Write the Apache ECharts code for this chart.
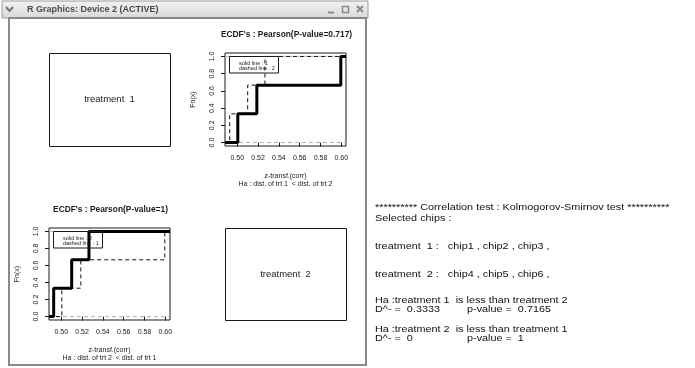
<!DOCTYPE html>
<html><head><meta charset="utf-8">
<script src="https://cdn.jsdelivr.net/npm/echarts@6/dist/echarts.min.js"></script>
<style>html,body{margin:0;padding:0;background:#fff}#c{width:695px;height:368px}</style>
</head><body><div id="c"></div>
<script>
// ---- data ----
const xTicks = [0.50, 0.52, 0.54, 0.56, 0.58, 0.60];
const yTicks = [0, 0.2, 0.4, 0.6, 0.8, 1.0];
const xRange = [0.4882, 0.6045];
const yRange = [-0.04, 1.04];
const trt1X = [0.4882, 0.5005, 0.5188, 0.5995, 0.6045];
const trt1Y = [0, 0.3333, 0.6667, 1, 1];
const trt2X = [0.4882, 0.4927, 0.5100, 0.5266, 0.6045];
const trt2Y = [0, 0.3333, 0.6667, 1, 1];
const refLevels = [0, 1];
const plotTitles = ["ECDF's : Pearson(P-value=0.717)", "ECDF's : Pearson(P-value=1)"];
const legendTexts = [["solid line : 1", "dashed line : 2"], ["solid line : 2", "dashed line : 1"]];
const xTitle = "z-transf.(corr)";
const yTitle = "Fn(x)";
const subTitles = ["Ha : dist. of trt 1  < dist. of trt 2", "Ha : dist. of trt 2  < dist. of trt 1"];
const boxLabels = ["treatment  1", "treatment  2"];
const windowTitle = "R Graphics: Device 2 (ACTIVE)";
const reportLines = [
  ["********** Correlation test : Kolmogorov-Smirnov test **********", ""],
  ["Selected chips :", ""],
  ["treatment  1 :   chip1 , chip2 , chip3 ,", ""],
  ["treatment  2 :   chip4 , chip5 , chip6 ,", ""],
  ["Ha :treatment 1  is less than treatment 2", ""],
  ["D^- =  0.3333", "p-value =  0.7165"],
  ["Ha :treatment 2  is less than treatment 1", ""],
  ["D^- =  0", "p-value =  1"]
];

// ---- layout ----
const FF = "'Liberation Sans', Arial, sans-serif";
const plots = [
  {left: 225, top: 53, width: 121, height: 93, solid: [trt1X, trt1Y], dashed: [trt2X, trt2Y]},
  {left: 49, top: 228, width: 121, height: 92, solid: [trt2X, trt2Y], dashed: [trt1X, trt1Y]}
];
const emptyBoxes = [
  {left: 49, top: 53, width: 121, height: 93},
  {left: 225, top: 228, width: 121, height: 92}
];
const reportY = [207, 218.5, 246.5, 274.5, 300.5, 309, 329.5, 338];

const zip = (xs, ys) => xs.map((x, i) => [x, ys[i]]);

const grid = [], xAxis = [], yAxis = [], series = [], graphic = [];

function txt(x, y, text, opt) {
  opt = opt || {};
  const align = opt.align || 'center';
  const va = opt.va || 'middle';
  graphic.push({
    type: 'text', x: x, y: y, rotation: opt.rot || 0, scaleX: opt.sx || 1, z: 100,
    style: {
      text: text, fill: opt.fill || '#1a1a1a',
      font: (opt.weight || 'normal') + ' ' + (opt.size || 7) + 'px ' + (opt.family || FF),
      align: align, verticalAlign: va, textAlign: align, textVerticalAlign: va
    }
  });
}

plots.forEach((p, i) => {
  grid.push({left: p.left, top: p.top, width: p.width, height: p.height, show: true,
    borderColor: '#1a1a1a', borderWidth: 1, backgroundColor: 'transparent', containLabel: false});
  xAxis.push({
    gridIndex: i, type: 'value', min: xRange[0], max: xRange[1],
    splitLine: {show: false}, axisLine: {show: false},
    axisTick: {show: true, length: 4, customValues: xTicks, lineStyle: {color: '#1a1a1a'}},
    axisLabel: {customValues: xTicks, formatter: v => v.toFixed(2), fontSize: 7, margin: 9,
      color: '#1a1a1a', fontFamily: FF}
  });
  yAxis.push({
    gridIndex: i, type: 'value', min: yRange[0], max: yRange[1],
    splitLine: {show: false}, axisLine: {show: false},
    axisTick: {show: true, length: 4, customValues: yTicks, lineStyle: {color: '#1a1a1a'}},
    axisLabel: {customValues: yTicks, formatter: v => v.toFixed(1), fontSize: 7, margin: 9,
      rotate: 90, color: '#1a1a1a', fontFamily: FF}
  });
  refLevels.forEach(L => {
    series.push({type: 'line', xAxisIndex: i, yAxisIndex: i, data: [[xRange[0], L], [xRange[1], L]],
      showSymbol: false, silent: true, animation: false, z: 1,
      lineStyle: {color: '#b3b3b3', width: 1, type: [4, 3]}});
  });
  series.push({type: 'line', xAxisIndex: i, yAxisIndex: i, data: zip(p.dashed[0], p.dashed[1]),
    step: 'end', showSymbol: false, animation: false, z: 2,
    lineStyle: {color: '#111', width: 1, type: [4, 3]}});
  series.push({type: 'line', xAxisIndex: i, yAxisIndex: i, data: zip(p.solid[0], p.solid[1]),
    step: 'end', showSymbol: false, animation: false, z: 3,
    lineStyle: {color: '#000', width: 3, cap: 'butt'}});

  const cx = p.left + p.width / 2;
  txt(cx + 1, p.top - 18, plotTitles[i], {weight: 'bold', size: 8.4});
  txt(cx, p.top + p.height + 30, xTitle, {size: 7});
  txt(cx, p.top + p.height + 38.5, subTitles[i], {size: 7});
  txt(p.left - 32, p.top + p.height / 2, yTitle, {size: 7, rot: Math.PI / 2});
  // legend box
  graphic.push({type: 'rect', shape: {x: p.left + 4.5, y: p.top + 3.5, width: 49, height: 16.5},
    style: {fill: 'none', stroke: '#1a1a1a', lineWidth: 1}, z: 90});
  txt(p.left + 14, p.top + 10, legendTexts[i][0], {size: 5.5, align: 'left'});
  txt(p.left + 14, p.top + 15.5, legendTexts[i][1], {size: 5.5, align: 'left'});
});

emptyBoxes.forEach((b, i) => {
  graphic.push({type: 'rect', shape: {x: b.left + 0.5, y: b.top + 0.5, width: b.width, height: b.height},
    style: {fill: 'none', stroke: '#1a1a1a', lineWidth: 1}, z: 90});
  txt(b.left + b.width / 2, b.top + b.height / 2, boxLabels[i], {size: 9.5});
});

// window frame
graphic.push({type: 'rect', shape: {x: 2, y: 1, width: 366, height: 17},
  style: {fill: new echarts.graphic.LinearGradient(0, 0, 0, 1, [{offset: 0, color: '#f2f2f2'}, {offset: 1, color: '#d9d9d9'}]),
    stroke: '#9a9a9a', lineWidth: 1}, z: 80});
graphic.push({type: 'polyline', shape: {points: [[6, 7], [9.5, 11], [13, 7]]},
  style: {stroke: '#777', lineWidth: 2, fill: 'none'}, z: 81});
txt(27, 10, windowTitle, {size: 9, weight: 'bold', align: 'left', fill: '#4a4a4a'});
graphic.push({type: 'line', shape: {x1: 328, y1: 12.5, x2: 334, y2: 12.5}, style: {stroke: '#8a8a8a', lineWidth: 2}, z: 81});
graphic.push({type: 'rect', shape: {x: 342.5, y: 6.5, width: 6, height: 6}, style: {stroke: '#8a8a8a', lineWidth: 1.5, fill: 'none'}, z: 81});
graphic.push({type: 'line', shape: {x1: 357, y1: 6, x2: 363, y2: 12}, style: {stroke: '#8a8a8a', lineWidth: 2}, z: 81});
graphic.push({type: 'line', shape: {x1: 363, y1: 6, x2: 357, y2: 12}, style: {stroke: '#8a8a8a', lineWidth: 2}, z: 81});
graphic.push({type: 'rect', shape: {x: 9, y: 18, width: 357, height: 347},
  style: {fill: 'none', stroke: '#8a8a8a', lineWidth: 2}, z: 80});

// report text
reportLines.forEach((ln, i) => {
  txt(375, reportY[i], ln[0], {size: 9.5, sx: 1.14, align: 'left', fill: '#111'});
  if (ln[1]) txt(467, reportY[i], ln[1], {size: 9.5, sx: 1.14, align: 'left', fill: '#111'});
});

const chart = echarts.init(document.getElementById('c'), null, {renderer: 'canvas'});
chart.setOption({
  animation: false, backgroundColor: '#fff',
  grid: grid, xAxis: xAxis, yAxis: yAxis, series: series,
  graphic: {elements: graphic}
});
</script></body></html>
